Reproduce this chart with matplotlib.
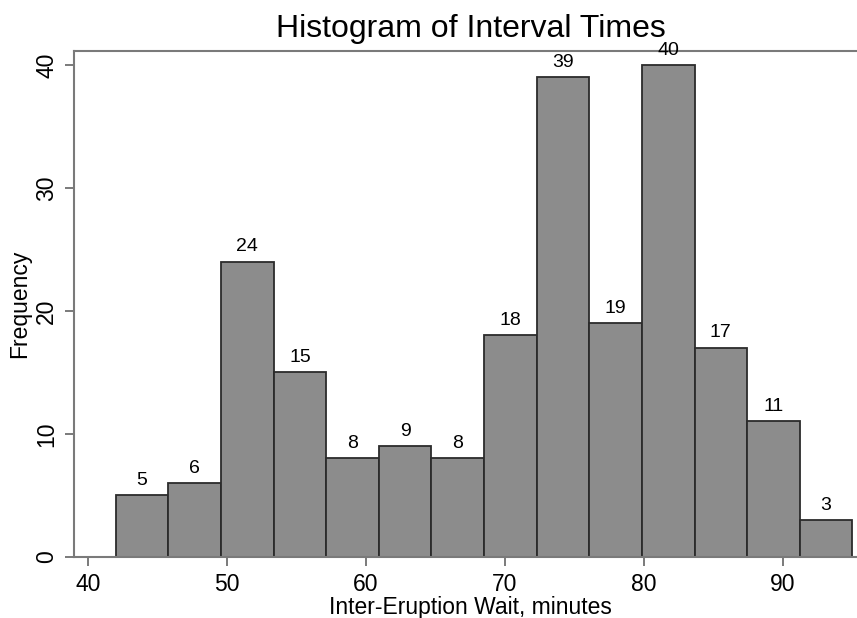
import numpy as np
import matplotlib
matplotlib.use("Agg")
from matplotlib import pyplot as plt

# histogram counts, 14 equal bins from 42 to 95 minutes
counts = [5, 6, 24, 15, 8, 9, 8, 18, 39, 19, 40, 17, 11, 3]
bin_lo, bin_hi = 42, 95
xticks = [40, 50, 60, 70, 80, 90]
yticks = [0, 10, 20, 30, 40]

plt.rcParams['font.family'] = ['Liberation Sans', 'DejaVu Sans']

edges = np.linspace(bin_lo, bin_hi, len(counts) + 1)
widths = np.diff(edges)

fig = plt.figure(figsize=(8.57, 6.18), dpi=100)
ax = fig.add_axes([74 / 857, 1 - 556.7 / 618, (867 - 74) / 857, (556.7 - 51) / 618])

bars = ax.bar(edges[:-1], counts, width=widths, align='edge',
              color='#8c8c8c', edgecolor='#2b2b2b', linewidth=1.3)
ax.bar_label(bars, labels=[str(c) for c in counts], padding=4.5, fontsize=14)

ax.set_xlim(39.0, 96.05)
ax.set_ylim(0, 41.14)
ax.set_xticks(xticks)
ax.set_yticks(yticks)

gray = '#7a7a7a'
for side in ['left', 'top', 'bottom']:
    ax.spines[side].set_color(gray)
    ax.spines[side].set_linewidth(1.5)
ax.spines['right'].set_visible(False)

ax.tick_params(axis='both', length=6.5, width=1.4, color=gray, labelsize=16.5, pad=5)
ax.tick_params(axis='y', labelrotation=90)
for lab in ax.get_yticklabels():
    lab.set_va('center')

ax.set_title('Histogram of Interval Times', fontsize=23, pad=10)
ax.set_xlabel('Inter-Eruption Wait, minutes', fontsize=16.5, labelpad=0)
ax.set_ylabel('Frequency', fontsize=16.5, labelpad=3)

fig.savefig('out.png', dpi=100)
